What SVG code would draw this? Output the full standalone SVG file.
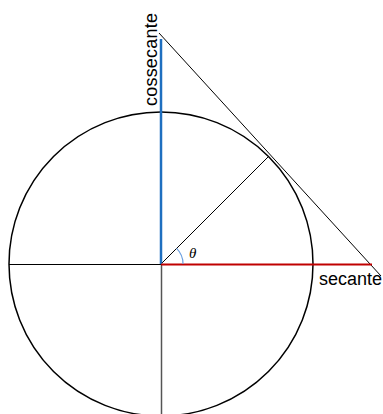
<svg xmlns="http://www.w3.org/2000/svg" width="383" height="414" viewBox="0 0 383 414">
<style>
.ln{stroke:#000;stroke-width:1;fill:none}
.lbl{font-family:"Liberation Sans",Arial,sans-serif;font-size:18px;fill:#000}
</style>
<rect width="383" height="414" fill="#fff"/>
<g id="circle"><circle cx="161" cy="264" r="152" fill="none" stroke="#000" stroke-width="1.5"/></g>
<g id="connectors">
<line class="ln" x1="9" y1="264.5" x2="161" y2="264.5"/>
<line x1="161.5" y1="264" x2="161.5" y2="414" stroke="#555" stroke-width="1.5"/>
<line class="ln" x1="161" y1="264" x2="269" y2="156"/>
<line class="ln" x1="159" y1="33" x2="381" y2="276"/>
<line x1="161" y1="39" x2="161" y2="264" stroke="#1F6FC0" stroke-width="2.5"/>
<line x1="161" y1="264.5" x2="372" y2="264.5" stroke="#C00000" stroke-width="2"/>
<path d="M176.6,248.4 A22,22 0 0 1 183,264" fill="none" stroke="#6A9FE0" stroke-width="1.2"/>
</g>
<g id="labels">
<text class="lbl" transform="translate(157,106) rotate(-90)" textLength="93">cossecante</text>
<text class="lbl" x="319" y="285">secante</text>
<text x="189" y="258" font-family="Liberation Serif,serif" font-style="italic" font-size="15">θ</text>
</g>
</svg>
